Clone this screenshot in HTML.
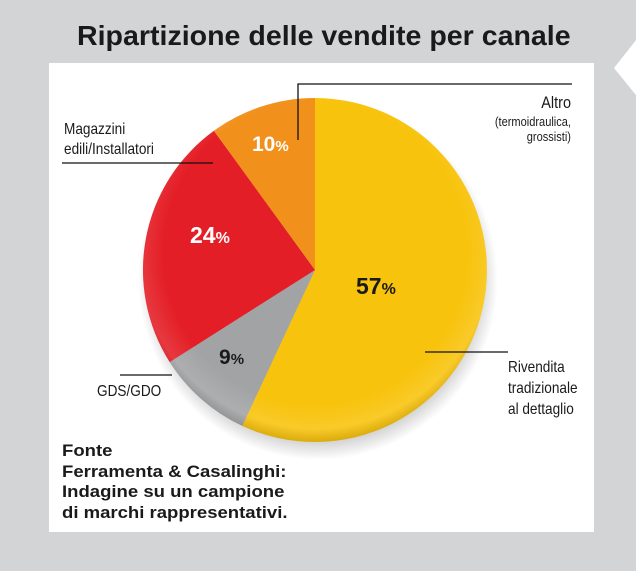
<!DOCTYPE html>
<html><head><meta charset="utf-8"><style>
body{margin:0;width:640px;height:571px;background:#d3d4d6;position:relative;overflow:hidden;font-family:"Liberation Sans",sans-serif}
.t{position:absolute;color:#1a1a1a}
</style></head><body>
<div style="position:absolute;right:0;top:0;width:4px;height:571px;background:#fff"></div>
<svg style="position:absolute;left:0;top:0" width="640" height="571">
<polygon points="640,35 614,68 640,100" fill="#fff"/>
<rect x="49" y="63" width="545" height="469" fill="#fff"/>
<defs>
<radialGradient id="sh" cx="0.5" cy="0.5" r="0.5"><stop offset="0.85" stop-color="#000" stop-opacity="0.25"/><stop offset="1" stop-color="#000" stop-opacity="0"/></radialGradient>
<radialGradient id="hl" cx="0.5" cy="0.45" r="0.55"><stop offset="0.8" stop-color="#fff" stop-opacity="0"/><stop offset="0.93" stop-color="#fff" stop-opacity="0.12"/><stop offset="1" stop-color="#000" stop-opacity="0.12"/></radialGradient>
</defs>
<ellipse cx="318" cy="280" rx="180" ry="180" fill="url(#sh)"/>
<g transform="translate(315,270)">
<path d="M0,0 L0,-172 A172,172 0 1,1 -72.7,155.9 Z" fill="#f8c30c"/>
<path d="M0,0 L-72.7,155.9 A172,172 0 0,1 -145.3,92.1 Z" fill="#a2a3a5"/>
<path d="M0,0 L-145.3,92.1 A172,172 0 0,1 -101.1,-139.2 Z" fill="#e41e26"/>
<path d="M0,0 L-101.1,-139.2 A172,172 0 0,1 0,-172 Z" fill="#f2901c"/>
<circle r="172" fill="url(#hl)"/>
</g>
<g stroke="#111" stroke-width="1.3" fill="none">
<polyline points="298,140 298,84 572,84"/>
<line x1="62" y1="163" x2="213" y2="163"/>
<line x1="425" y1="352" x2="508" y2="352"/>
<line x1="120" y1="375" x2="172" y2="375"/>
</g>
</svg>
<div class="t" style="left:77px;top:20px;font-size:28px;font-weight:bold;transform:scaleX(1.02);transform-origin:left;white-space:nowrap">Ripartizione delle vendite per canale</div>
<div class="t" style="left:400px;top:93px;width:171px;text-align:right;font-size:17px;transform:scaleX(0.85);transform-origin:right">Altro</div>
<div class="t" style="left:400px;top:114px;width:171px;text-align:right;font-size:13px;line-height:15px;transform:scaleX(0.85);transform-origin:right">(termoidraulica,<br>grossisti)</div>
<div class="t" style="left:64px;top:120px;font-size:16px;line-height:20px;transform:scaleX(0.85);transform-origin:left">Magazzini<br>edili/Installatori</div>
<div class="t" style="left:508px;top:357px;font-size:16px;line-height:21px;transform:scaleX(0.85);transform-origin:left">Rivendita<br>tradizionale<br>al dettaglio</div>
<div class="t" style="left:97px;top:383px;font-size:16px;transform:scaleX(0.85);transform-origin:left">GDS/GDO</div>
<div class="t" style="left:252px;top:133px;font-size:21px;font-weight:bold;color:#fff">10<span style="font-size:15px">%</span></div>
<div class="t" style="left:190px;top:222px;font-size:23px;font-weight:bold;color:#fff">24<span style="font-size:16px">%</span></div>
<div class="t" style="left:356px;top:273px;font-size:23px;font-weight:bold">57<span style="font-size:16px">%</span></div>
<div class="t" style="left:219px;top:346px;font-size:21px;font-weight:bold">9<span style="font-size:15px">%</span></div>
<div class="t" style="left:62px;top:441px;font-size:17px;font-weight:bold;line-height:20.5px;transform:scaleX(1.09);transform-origin:left;white-space:nowrap">Fonte<br>Ferramenta &amp; Casalinghi:<br>Indagine su un campione<br>di marchi rappresentativi.</div>
</body></html>
